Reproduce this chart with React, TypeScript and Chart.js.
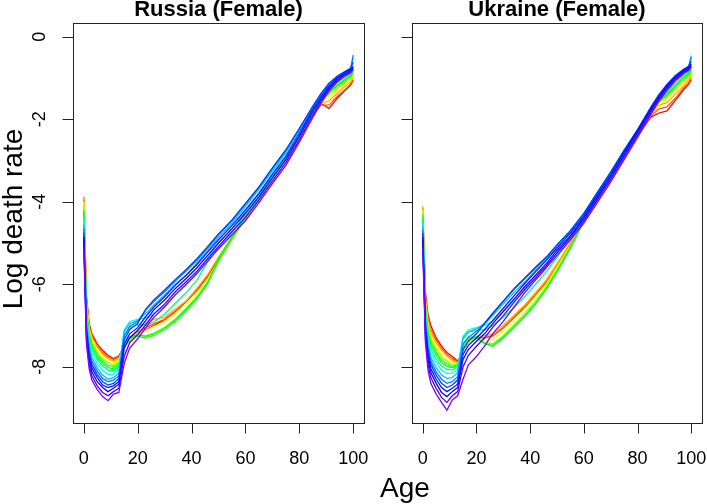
import React, { useEffect, useRef } from "react";
import { Chart, registerables } from "chart.js";

Chart.register(...registerables);

// Ages (x values) at which each yearly curve is read
const ages = [0, 1, 2, 3, 5, 7, 9, 11, 13, 15, 17, 20, 23, 26, 30, 34, 38, 42, 46, 50, 55, 60, 65, 70, 75, 80, 85, 88, 91, 94, 97, 99, 100];

// Axis tick labels
const xTicks = [0, 20, 40, 60, 80, 100];
const yTicks = [-8, -6, -4, -2, 0];

// One hue per curve, earliest (red) to latest (violet)
const curveHues = [0, 20, 40, 60, 85, 110, 130, 150, 175, 195, 210, 225, 235, 245, 258, 270];

// Russia (Female): one row per age, one column per curve (red -> violet)
const russiaRows = [
  [-3.95, -3.9, -3.87, -4.0, -4.1, -4.2, -4.25, -4.35, -4.45, -4.55, -4.65, -4.75, -4.85, -4.9, -5.0, -5.1],
  [-6.3, -6.35, -6.4, -6.45, -6.55, -6.62, -6.68, -6.75, -6.85, -6.95, -7.0, -7.08, -7.15, -7.25, -7.35, -7.45],
  [-6.95, -7.0, -7.05, -7.08, -7.15, -7.2, -7.26, -7.32, -7.42, -7.52, -7.6, -7.68, -7.76, -7.85, -7.95, -8.05],
  [-7.2, -7.24, -7.3, -7.33, -7.4, -7.46, -7.52, -7.58, -7.68, -7.78, -7.86, -7.94, -8.02, -8.12, -8.22, -8.32],
  [-7.45, -7.5, -7.52, -7.58, -7.65, -7.7, -7.76, -7.82, -7.92, -8.02, -8.1, -8.18, -8.26, -8.36, -8.46, -8.55],
  [-7.6, -7.66, -7.7, -7.74, -7.8, -7.86, -7.92, -7.98, -8.08, -8.2, -8.28, -8.36, -8.44, -8.5, -8.62, -8.72],
  [-7.72, -7.76, -7.8, -7.84, -7.9, -7.96, -8.02, -8.08, -8.18, -8.3, -8.36, -8.44, -8.5, -8.6, -8.7, -8.82],
  [-7.8, -7.82, -7.86, -7.9, -7.95, -8.0, -8.05, -8.1, -8.18, -8.26, -8.32, -8.4, -8.46, -8.52, -8.6, -8.66],
  [-7.74, -7.76, -7.8, -7.82, -7.88, -7.92, -7.96, -8.0, -8.06, -8.15, -8.22, -8.28, -8.36, -8.42, -8.52, -8.62],
  [-7.5, -7.52, -7.5, -7.54, -7.52, -7.46, -7.42, -7.25, -7.1, -7.15, -7.25, -7.35, -7.45, -7.55, -7.75, -7.92],
  [-7.36, -7.36, -7.3, -7.34, -7.36, -7.3, -7.28, -7.05, -6.9, -6.95, -7.02, -7.1, -7.2, -7.3, -7.42, -7.55],
  [-7.2, -7.16, -7.1, -7.18, -7.24, -7.26, -7.22, -6.98, -6.85, -6.88, -6.9, -6.95, -7.05, -7.12, -7.22, -7.32],
  [-7.1, -7.05, -6.95, -7.12, -7.25, -7.3, -7.26, -6.98, -6.82, -6.7, -6.62, -6.6, -6.78, -6.88, -6.98, -7.05],
  [-7.0, -6.96, -6.85, -7.02, -7.18, -7.24, -7.2, -6.92, -6.72, -6.5, -6.42, -6.38, -6.55, -6.62, -6.72, -6.8],
  [-6.86, -6.85, -6.8, -6.92, -7.04, -7.1, -7.06, -6.72, -6.52, -6.26, -6.18, -6.14, -6.3, -6.38, -6.48, -6.55],
  [-6.66, -6.65, -6.6, -6.72, -6.84, -6.9, -6.86, -6.46, -6.26, -6.0, -5.92, -5.88, -6.02, -6.1, -6.18, -6.25],
  [-6.42, -6.42, -6.4, -6.48, -6.58, -6.64, -6.6, -6.2, -6.02, -5.78, -5.68, -5.64, -5.78, -5.86, -5.94, -6.0],
  [-6.12, -6.15, -6.1, -6.22, -6.3, -6.36, -6.32, -5.9, -5.72, -5.48, -5.42, -5.38, -5.52, -5.6, -5.68, -5.74],
  [-5.8, -5.82, -5.76, -5.88, -5.94, -5.98, -5.95, -5.45, -5.36, -5.18, -5.12, -5.08, -5.22, -5.3, -5.38, -5.44],
  [-5.38, -5.4, -5.34, -5.42, -5.45, -5.42, -5.38, -5.1, -5.0, -4.86, -4.8, -4.78, -4.92, -5.0, -5.08, -5.14],
  [-4.88, -4.9, -4.85, -4.9, -4.92, -4.88, -4.85, -4.75, -4.65, -4.52, -4.46, -4.44, -4.58, -4.65, -4.72, -4.8],
  [-4.35, -4.38, -4.34, -4.4, -4.42, -4.4, -4.38, -4.3, -4.24, -4.12, -4.06, -4.04, -4.2, -4.28, -4.38, -4.46],
  [-3.9, -3.92, -3.88, -3.92, -3.94, -3.92, -3.9, -3.86, -3.8, -3.7, -3.66, -3.64, -3.8, -3.88, -3.96, -4.02],
  [-3.42, -3.44, -3.4, -3.42, -3.44, -3.42, -3.4, -3.38, -3.32, -3.25, -3.2, -3.18, -3.34, -3.42, -3.5, -3.56],
  [-2.96, -2.98, -2.94, -2.96, -2.96, -2.94, -2.92, -2.9, -2.86, -2.8, -2.76, -2.74, -2.9, -2.98, -3.05, -3.12],
  [-2.42, -2.44, -2.4, -2.42, -2.42, -2.4, -2.38, -2.36, -2.32, -2.28, -2.24, -2.22, -2.35, -2.42, -2.5, -2.56],
  [-1.88, -1.9, -1.86, -1.86, -1.84, -1.84, -1.82, -1.8, -1.76, -1.72, -1.7, -1.68, -1.76, -1.82, -1.9, -1.96],
  [-1.62, -1.66, -1.62, -1.6, -1.56, -1.55, -1.53, -1.5, -1.46, -1.42, -1.4, -1.38, -1.46, -1.52, -1.58, -1.62],
  [-1.74, -1.66, -1.56, -1.46, -1.4, -1.36, -1.34, -1.3, -1.24, -1.18, -1.15, -1.13, -1.2, -1.24, -1.28, -1.32],
  [-1.5, -1.45, -1.38, -1.3, -1.25, -1.2, -1.18, -1.12, -1.06, -1.0, -0.98, -0.96, -1.0, -1.04, -1.08, -1.1],
  [-1.3, -1.28, -1.2, -1.15, -1.1, -1.06, -1.03, -0.98, -0.92, -0.87, -0.85, -0.84, -0.87, -0.9, -0.92, -0.95],
  [-1.18, -1.15, -1.1, -1.05, -1.0, -0.96, -0.94, -0.9, -0.84, -0.8, -0.78, -0.77, -0.8, -0.83, -0.86, -0.88],
  [-1.05, -1.04, -1.0, -0.95, -0.9, -0.86, -0.83, -0.76, -0.7, -0.52, -0.45, -0.62, -0.72, -0.75, -0.78, -0.8],
];

// Ukraine (Female): one row per age, one column per curve (red -> violet)
const ukraineRows = [
  [-4.2, -4.15, -4.1, -4.2, -4.25, -4.32, -4.38, -4.45, -4.52, -4.6, -4.68, -4.76, -4.85, -4.92, -5.0, -5.12],
  [-6.2, -6.28, -6.34, -6.42, -6.48, -6.55, -6.6, -6.68, -6.76, -6.84, -6.92, -7.0, -7.1, -7.2, -7.3, -7.42],
  [-6.75, -6.84, -6.9, -6.98, -7.06, -7.14, -7.2, -7.28, -7.38, -7.48, -7.56, -7.64, -7.74, -7.84, -7.96, -8.1],
  [-7.0, -7.1, -7.18, -7.26, -7.32, -7.4, -7.46, -7.56, -7.66, -7.76, -7.86, -7.94, -8.04, -8.14, -8.26, -8.4],
  [-7.3, -7.35, -7.42, -7.48, -7.56, -7.64, -7.7, -7.8, -7.9, -8.02, -8.12, -8.2, -8.3, -8.4, -8.52, -8.66],
  [-7.5, -7.55, -7.6, -7.68, -7.76, -7.84, -7.9, -7.98, -8.08, -8.2, -8.3, -8.4, -8.5, -8.62, -8.74, -8.86],
  [-7.65, -7.7, -7.74, -7.8, -7.86, -7.92, -7.98, -8.06, -8.16, -8.28, -8.4, -8.5, -8.6, -8.72, -8.86, -9.05],
  [-7.75, -7.8, -7.84, -7.88, -7.93, -7.98, -8.02, -8.08, -8.16, -8.26, -8.36, -8.44, -8.52, -8.6, -8.7, -8.8],
  [-7.86, -7.9, -7.9, -7.93, -7.94, -7.95, -7.96, -8.0, -8.06, -8.14, -8.24, -8.32, -8.42, -8.5, -8.6, -8.7],
  [-7.6, -7.6, -7.6, -7.6, -7.56, -7.5, -7.45, -7.32, -7.26, -7.3, -7.45, -7.58, -7.7, -7.82, -8.0, -8.3],
  [-7.4, -7.4, -7.4, -7.4, -7.36, -7.32, -7.28, -7.16, -7.1, -7.15, -7.28, -7.38, -7.48, -7.58, -7.72, -7.95],
  [-7.3, -7.3, -7.26, -7.3, -7.3, -7.3, -7.28, -7.12, -7.05, -7.08, -7.14, -7.2, -7.3, -7.38, -7.5, -7.75],
  [-7.3, -7.3, -7.25, -7.34, -7.4, -7.44, -7.44, -7.1, -7.0, -6.96, -6.94, -6.95, -7.1, -7.2, -7.3, -7.5],
  [-7.25, -7.25, -7.2, -7.34, -7.44, -7.5, -7.48, -7.0, -6.9, -6.76, -6.7, -6.72, -6.88, -6.96, -7.05, -7.2],
  [-7.05, -7.05, -7.0, -7.14, -7.24, -7.3, -7.28, -6.8, -6.65, -6.48, -6.4, -6.42, -6.58, -6.66, -6.76, -6.9],
  [-6.8, -6.8, -6.75, -6.88, -6.98, -7.05, -7.02, -6.56, -6.4, -6.2, -6.1, -6.12, -6.28, -6.36, -6.44, -6.55],
  [-6.55, -6.55, -6.5, -6.6, -6.7, -6.78, -6.76, -6.3, -6.15, -5.94, -5.84, -5.86, -5.98, -6.06, -6.12, -6.2],
  [-6.25, -6.25, -6.2, -6.3, -6.4, -6.48, -6.46, -6.0, -5.85, -5.66, -5.58, -5.6, -5.7, -5.78, -5.84, -5.9],
  [-5.95, -5.95, -5.9, -6.0, -6.05, -6.12, -6.1, -5.7, -5.55, -5.4, -5.34, -5.35, -5.42, -5.5, -5.55, -5.6],
  [-5.55, -5.55, -5.5, -5.58, -5.64, -5.7, -5.68, -5.35, -5.25, -5.1, -5.04, -5.05, -5.12, -5.18, -5.24, -5.3],
  [-5.0, -5.05, -5.0, -5.06, -5.1, -5.12, -5.1, -4.9, -4.85, -4.74, -4.7, -4.7, -4.76, -4.82, -4.86, -4.92],
  [-4.45, -4.48, -4.44, -4.46, -4.48, -4.48, -4.46, -4.42, -4.38, -4.32, -4.28, -4.28, -4.35, -4.4, -4.46, -4.52],
  [-3.92, -3.94, -3.9, -3.92, -3.92, -3.92, -3.9, -3.88, -3.84, -3.8, -3.78, -3.78, -3.84, -3.9, -3.96, -4.02],
  [-3.32, -3.4, -3.38, -3.4, -3.4, -3.4, -3.4, -3.38, -3.34, -3.3, -3.28, -3.28, -3.34, -3.4, -3.46, -3.52],
  [-2.88, -2.9, -2.88, -2.9, -2.9, -2.88, -2.86, -2.84, -2.82, -2.78, -2.76, -2.75, -2.8, -2.86, -2.92, -2.98],
  [-2.4, -2.42, -2.38, -2.4, -2.4, -2.38, -2.36, -2.34, -2.32, -2.28, -2.26, -2.25, -2.28, -2.32, -2.38, -2.44],
  [-1.95, -1.92, -1.88, -1.88, -1.86, -1.85, -1.84, -1.82, -1.78, -1.74, -1.72, -1.7, -1.74, -1.78, -1.84, -1.88],
  [-1.85, -1.75, -1.66, -1.62, -1.58, -1.56, -1.54, -1.52, -1.48, -1.44, -1.42, -1.4, -1.44, -1.48, -1.52, -1.56],
  [-1.8, -1.7, -1.6, -1.52, -1.46, -1.42, -1.4, -1.36, -1.28, -1.22, -1.18, -1.15, -1.18, -1.22, -1.26, -1.3],
  [-1.55, -1.5, -1.4, -1.32, -1.26, -1.22, -1.18, -1.12, -1.06, -1.0, -0.97, -0.95, -0.98, -1.01, -1.04, -1.07],
  [-1.3, -1.25, -1.2, -1.13, -1.07, -1.02, -0.98, -0.93, -0.88, -0.84, -0.81, -0.8, -0.82, -0.85, -0.88, -0.9],
  [-1.15, -1.12, -1.05, -1.0, -0.96, -0.92, -0.89, -0.85, -0.8, -0.76, -0.73, -0.72, -0.74, -0.77, -0.8, -0.82],
  [-1.05, -1.0, -0.95, -0.9, -0.86, -0.82, -0.78, -0.72, -0.66, -0.46, -0.5, -0.6, -0.66, -0.7, -0.72, -0.74],
];

const FONT = '"Liberation Sans", Arial, Helvetica, sans-serif';
const W = 707;
const H = 504;

type PanelCfg = {
  title: string;
  rows: number[][];
  padLeft: number;
  padRight: number;
  yLabels: boolean;
  yTitle?: string;
  xTitle?: string;
};

function framePlugin(cfg: PanelCfg) {
  return {
    id: "rFrame",
    afterDraw(chart: any) {
      const { ctx, chartArea: a } = chart;
      const xs = chart.scales.x;
      const ys = chart.scales.y;
      ctx.save();
      ctx.strokeStyle = "#222";
      ctx.lineWidth = 1;
      const L = Math.round(a.left) + 0.5;
      const T = Math.round(a.top) + 0.5;
      const R = Math.round(a.right) + 0.5;
      const B = Math.round(a.bottom) + 0.5;
      ctx.strokeRect(L, T, R - L, B - T);
      ctx.beginPath();
      xTicks.forEach((v) => {
        const px = Math.round(xs.getPixelForValue(v)) + 0.5;
        ctx.moveTo(px, B);
        ctx.lineTo(px, B + 10);
      });
      yTicks.forEach((v) => {
        const py = Math.round(ys.getPixelForValue(v)) + 0.5;
        ctx.moveTo(L, py);
        ctx.lineTo(L - 11, py);
      });
      ctx.stroke();

      ctx.fillStyle = "#000";
      ctx.textAlign = "center";
      ctx.textBaseline = "alphabetic";
      ctx.font = `18px ${FONT}`;
      xTicks.forEach((v) => {
        ctx.fillText(String(v), xs.getPixelForValue(v), 464);
      });
      if (cfg.yLabels) {
        yTicks.forEach((v) => {
          ctx.save();
          ctx.translate(45, ys.getPixelForValue(v));
          ctx.rotate(-Math.PI / 2);
          ctx.fillText(String(v), 0, 0);
          ctx.restore();
        });
      }
      ctx.font = `bold 22px ${FONT}`;
      ctx.fillText(cfg.title, (a.left + a.right) / 2, 16);
      if (cfg.yTitle) {
        ctx.font = `28px ${FONT}`;
        ctx.save();
        ctx.translate(22, 219);
        ctx.rotate(-Math.PI / 2);
        ctx.fillText(cfg.yTitle, 0, 0);
        ctx.restore();
      }
      if (cfg.xTitle) {
        ctx.font = `28px ${FONT}`;
        ctx.fillText(cfg.xTitle, 405, 497);
      }
      ctx.restore();
    },
  };
}

function Panel({ cfg }: { cfg: PanelCfg }) {
  const ref = useRef<HTMLCanvasElement | null>(null);
  useEffect(() => {
    if (!ref.current) return;
    const n = curveHues.length;
    const datasets = curveHues.map((h, j) => ({
      data: ages.map((a, i) => ({ x: a, y: cfg.rows[i][j] })),
      borderColor: `hsl(${h}, 100%, 50%)`,
      borderWidth: 1.3,
      pointRadius: 0,
      fill: false,
      tension: 0,
      order: n - j,
    }));
    const chart = new Chart(ref.current, {
      type: "line",
      data: { datasets },
      options: {
        responsive: false,
        animation: false,
        devicePixelRatio: 1,
        events: [],
        layout: { padding: { left: cfg.padLeft, right: cfg.padRight, top: 23, bottom: 81 } },
        scales: {
          x: { type: "linear", display: false, min: -4, max: 104 },
          y: { type: "linear", display: false, min: -9.36, max: 0.33 },
        },
        plugins: {
          legend: { display: false },
          tooltip: { enabled: false },
          title: { display: false },
        },
      },
      plugins: [framePlugin(cfg)],
    } as any);
    return () => chart.destroy();
  }, [cfg]);
  return (
    <canvas
      ref={ref}
      width={W}
      height={H}
      style={{ position: "absolute", left: 0, top: 0, width: W, height: H, display: "block" }}
    />
  );
}

const russiaCfg: PanelCfg = {
  title: "Russia (Female)",
  rows: russiaRows,
  padLeft: 73,
  padRight: W - 364,
  yLabels: true,
  yTitle: "Log death rate",
};

const ukraineCfg: PanelCfg = {
  title: "Ukraine (Female)",
  rows: ukraineRows,
  padLeft: 412,
  padRight: W - 702,
  yLabels: false,
  xTitle: "Age",
};

export default function App() {
  return (
    <div style={{ position: "absolute", left: 0, top: 0, width: W, height: H, background: "#fff", overflow: "hidden" }}>
      <Panel cfg={russiaCfg} />
      <Panel cfg={ukraineCfg} />
    </div>
  );
}
